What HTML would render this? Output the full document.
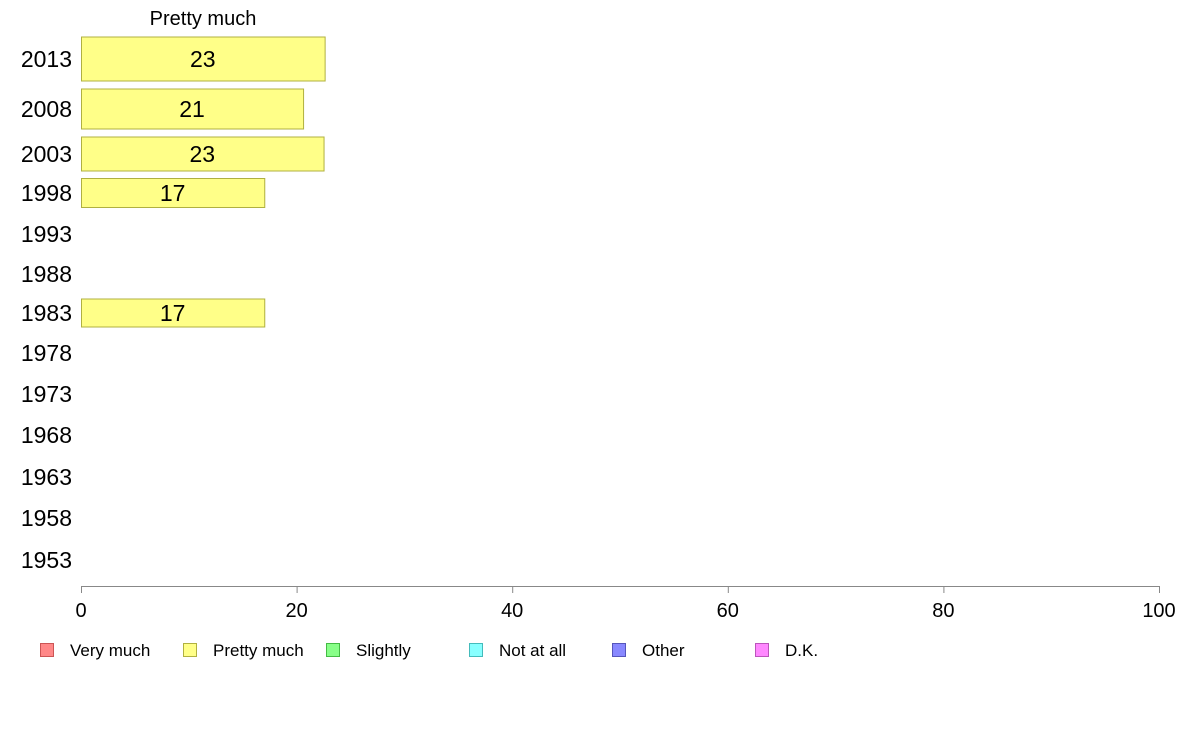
<!DOCTYPE html>
<html><head><meta charset="utf-8"><style>
body{margin:0;background:#fff;font-family:"Liberation Sans",sans-serif}
svg text{font-family:"Liberation Sans",sans-serif}
</style></head><body>
<svg id="c" width="1188" height="736" xmlns="http://www.w3.org/2000/svg"></svg>
<script>
const years=["2013","2008","2003","1998","1993","1988","1983","1978","1973","1968","1963","1958","1953"];
const values=[22.6,20.6,22.5,17.0,null,null,17.0,null,null,null,null,null,null];
const labels=["23","21","23","17","","","17","","","","","",""];
const ticks=[0,20,40,60,80,100];
const legendNames=["Very much","Pretty much","Slightly","Not at all","Other","D.K."];
const legendColors=["#ff8888","#ffff88","#88ff88","#88ffff","#8888ff","#ff88ff"];
const legendStroke=["#cc5555","#b0b040","#44bb44","#44bbbb","#5555bb","#bb55bb"];
// layout (row centres and band heights in px)
const rowY=[59,109,154,193,234,274,313,353,394,435,477,518,560];
const rowH=[44,40,34,29,28,28,28,28,28,28,28,28,28];
const NS="http://www.w3.org/2000/svg",svg=document.getElementById('c');
const x=v=>81+v*(1159-81)/100;
function el(t,a,txt){const e=document.createElementNS(NS,t);for(const k in a)e.setAttribute(k,a[k]);if(txt!=null)e.textContent=txt;svg.appendChild(e);return e;}
let t=el('text',{x:203,y:25,'font-size':20,'text-anchor':'middle',fill:'#000'},'Pretty much');


years.forEach((yr,i)=>{
 const l=el('text',{x:72,y:rowY[i]+8,'font-size':23,'text-anchor':'end',fill:'#000'},yr);
 
 
 if(values[i]!=null){
  const r=el('rect',{x:x(0)+0.5,y:rowY[i]-rowH[i]/2,width:x(values[i])-x(0),height:rowH[i],fill:'#ffff88',stroke:'#b0b040'});
  
  
  const v=el('text',{x:(x(0)+x(values[i]))/2,y:rowY[i]+8,'font-size':23,'text-anchor':'middle',fill:'#000'},labels[i]);
  
  
 }
});
const ax=el('line',{x1:x(0),x2:x(100),y1:586.5,y2:586.5,stroke:'#888'});


ticks.forEach(tk=>{
 const tl=el('line',{x1:x(tk)+0.5,x2:x(tk)+0.5,y1:586,y2:593,stroke:'#888'});
 
 
 const tt=el('text',{x:x(tk),y:617,'font-size':20,'text-anchor':'middle',fill:'#000'},String(tk));
 
 
});
legendNames.forEach((n,i)=>{
 const lx=40+i*143;
 const s=el('rect',{x:lx+0.5,y:643.5,width:13,height:13,fill:legendColors[i],stroke:legendStroke[i]});
 
 
 const lt=el('text',{x:lx+30,y:656,'font-size':17,fill:'#000'},n);
 
 
});
</script>
</body></html>
